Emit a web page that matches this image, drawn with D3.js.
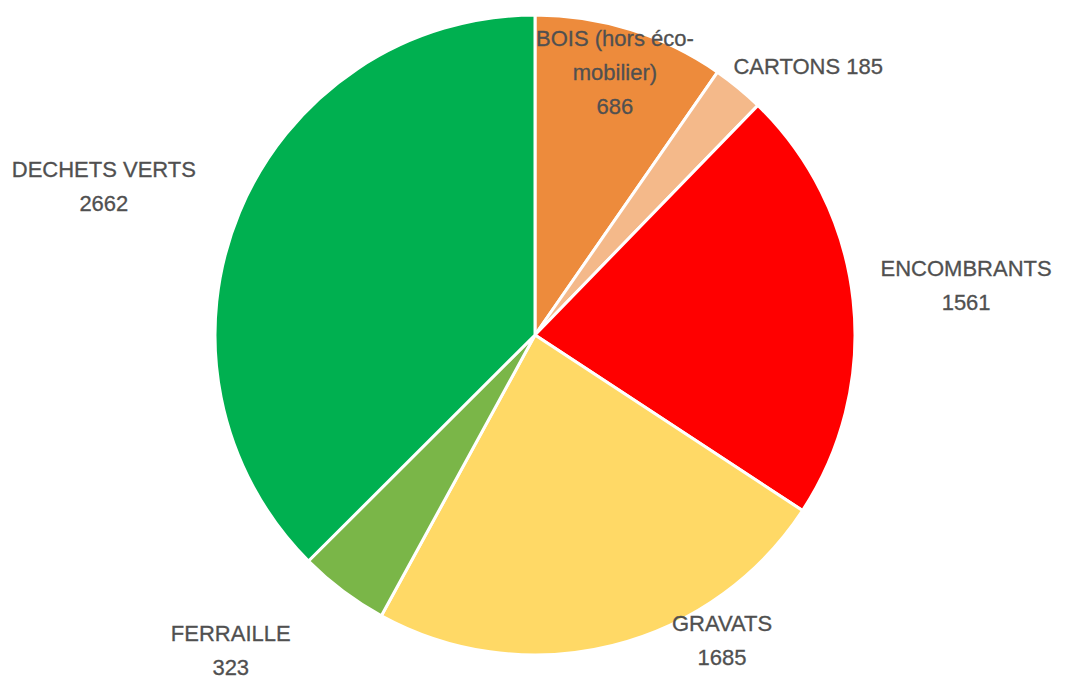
<!DOCTYPE html>
<html><head><meta charset="utf-8">
<script src="https://cdn.jsdelivr.net/npm/d3@7/dist/d3.min.js"></script>
<style>html,body{margin:0;padding:0;background:#fff;}</style>
</head><body>
<svg id="chart" width="1067" height="679"></svg>
<script>
const categories = ["BOIS (hors éco-mobilier)", "CARTONS", "ENCOMBRANTS", "GRAVATS", "FERRAILLE", "DECHETS VERTS"];
const values = [686, 185, 1561, 1685, 323, 2662];
const colors = ["#ED8B3C", "#F4B98A", "#FF0000", "#FFD966", "#7AB648", "#00B050"];
// label text lines
const labelLines = [["BOIS (hors éco-", "mobilier)", "686"], ["CARTONS 185"], ["ENCOMBRANTS", "1561"], ["GRAVATS", "1685"], ["FERRAILLE", "323"], ["DECHETS VERTS", "2662"]];
// label placement: polar offset (radius, angle in degrees clockwise from top)
const labelPolar = [[275, 16.9], [383, 45.5], [434, 83.4], [358, 148.5], [438, 224], [456, 289]];

const svg = d3.select("#chart");
const cx = 535, cy = 335, R = 320;
const g = svg.append("g").attr("transform", `translate(${cx},${cy})`);
const data = categories.map((c, i) => ({c, v: values[i], i}));
const pie = d3.pie().value(d => d.v).sort(null);
const arc = d3.arc().innerRadius(0).outerRadius(R);
const arcs = pie(data);
g.selectAll("path").data(arcs).join("path")
  .attr("d", arc).attr("fill", d => colors[d.data.i])
  .attr("stroke", "#fff").attr("stroke-width", 3).attr("stroke-linejoin", "round");

const lh = 34;
arcs.forEach((a, i) => {
  const [r, deg] = labelPolar[i];
  const t = deg * Math.PI / 180;
  const x = r * Math.sin(t), y = -r * Math.cos(t);
  const lines = labelLines[i];
  const y0 = y - (lines.length - 1) * lh / 2;
  const txt = g.append("text").attr("text-anchor", "middle")
    .attr("font-family", "'Liberation Sans', Arial, sans-serif").attr("font-size", 22)
    .attr("fill", "#505050").attr("stroke", "#505050").attr("stroke-width", 0.3);
  lines.forEach((l, k) => txt.append("tspan").attr("x", x).attr("y", y0 + k * lh).attr("dy", "0.35em").text(l));
});
</script>
</body></html>
